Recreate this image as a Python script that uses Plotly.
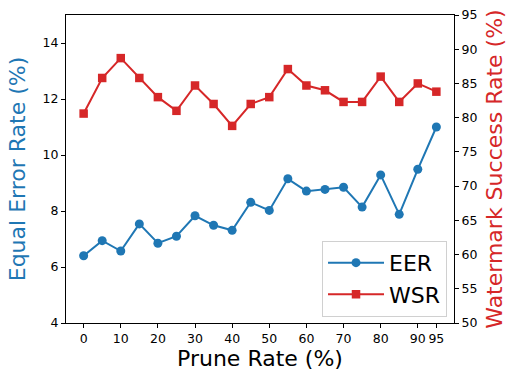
import plotly.graph_objects as go

# prune rate on x, EER on left axis, WSR on right axis
prune_rate = [0, 5, 10, 15, 20, 25, 30, 35, 40, 45, 50, 55, 60, 65, 70, 75, 80, 85, 90, 95]
eer = [6.40, 6.94, 6.57, 7.54, 6.85, 7.10, 7.83, 7.49, 7.31, 8.31,
       8.02, 9.15, 8.71, 8.77, 8.85, 8.14, 9.29, 7.88, 9.49, 11.0]
wsr = [80.6, 85.8, 88.7, 85.8, 83.0, 81.0, 84.7, 82.0, 78.8, 82.0,
       83.0, 87.1, 84.7, 84.0, 82.3, 82.3, 86.0, 82.3, 85.0, 83.8]
x_ticks = [0, 10, 20, 30, 40, 50, 60, 70, 80, 90, 95]

blue = '#1f77b4'
red = '#d62728'
font = 'DejaVu Sans'

fig = go.Figure()
fig.add_trace(go.Scatter(
    x=prune_rate, y=eer, name='EER', mode='lines+markers',
    line=dict(color=blue, width=2),
    marker=dict(symbol='circle', size=9, color=blue),
    yaxis='y'))
fig.add_trace(go.Scatter(
    x=prune_rate, y=wsr, name='WSR', mode='lines+markers',
    line=dict(color=red, width=2),
    marker=dict(symbol='square', size=8.5, color=red),
    yaxis='y2'))

axis_common = dict(showline=True, linecolor='black', linewidth=1, ticks='outside',
                   ticklen=4, tickcolor='black', showgrid=False, zeroline=False,
                   automargin=False,
                   tickfont=dict(family=font, size=12.5, color='black'))

fig.update_layout(
    width=519, height=385,
    margin=dict(l=66, r=65, t=15, b=62),
    paper_bgcolor='white', plot_bgcolor='white',
    font=dict(family=font, color='black'),
    showlegend=True,
    legend=dict(x=0.982, y=0.02, xanchor='right', yanchor='bottom',
                bgcolor='rgba(255,255,255,0.8)', bordercolor='#d0d0d0', borderwidth=1,
                font=dict(family=font, size=22, color='black'),
                itemwidth=56, tracegroupgap=4),
    xaxis=dict(range=[-4.75, 99.75], tickvals=x_ticks, mirror=True,
               title=dict(text='Prune Rate (%)', font=dict(family=font, size=22, color='black'),
                          standoff=4),
               **axis_common),
    yaxis=dict(range=[4, 15], tickvals=[4, 6, 8, 10, 12, 14],
               title=dict(text='Equal Error Rate (%)', font=dict(family=font, size=22, color=blue),
                          standoff=10),
               **axis_common),
    yaxis2=dict(range=[50, 95], tickvals=list(range(50, 96, 5)), overlaying='y', side='right',
                title=dict(text='Watermark Success Rate (%)', font=dict(family=font, size=22, color=red),
                           standoff=10),
                **axis_common),
)

# page body has a default 8px margin, drop it so the figure sits at the corner
fig.write_html("out.html", config={'displayModeBar': False},
               post_script="document.body.style.margin='0';")
